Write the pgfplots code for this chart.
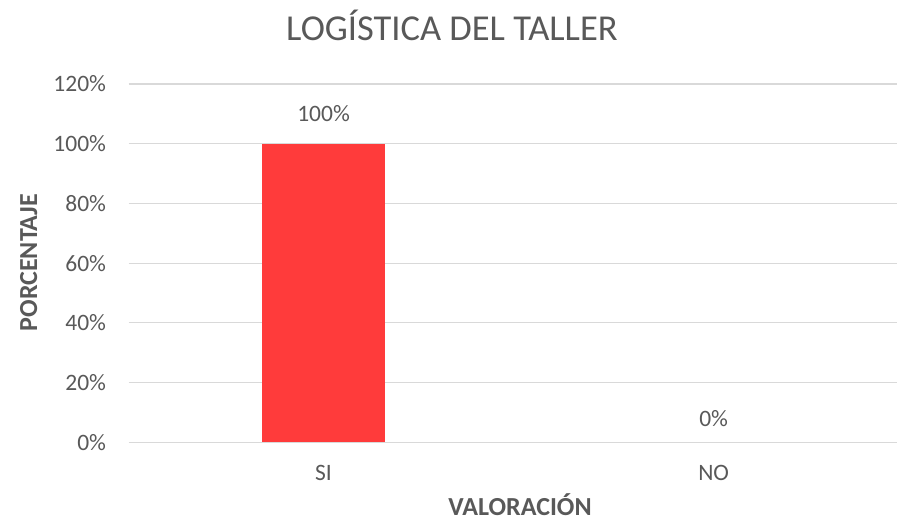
\documentclass[border=0pt]{standalone}
\usepackage{fontspec}
\setmainfont{Carlito}
\usepackage{pgfplots}
\pgfplotsset{compat=1.18}
\definecolor{barred}{HTML}{FF3B3B}
\definecolor{txt}{HTML}{595959}
\definecolor{gridgray}{HTML}{D9D9D9}
\begin{document}
\begin{tikzpicture}
\useasboundingbox (0,0) rectangle (897bp,522bp);
\begin{axis}[
  at={(128.5bp,79.7bp)}, anchor=south west,
  scale only axis, width=768.5bp, height=358.3bp,
  xmin=-0.5, xmax=1.47, ymin=0, ymax=120,
  ybar, bar width=123bp, bar shift=0pt,
  xtick={0,1}, xticklabels={SI,NO},
  ytick={0,20,40,60,80,100,120},
  yticklabel={\pgfmathprintnumber{\tick}\%},
  /pgf/number format/assume math mode=true,
  axis lines*=left,
  axis line style={draw=none},
  tick style={draw=none},
  ymajorgrids, xmajorgrids=false, grid style={draw=gridgray, line width=1.2bp},
  font=\fontsize{23.5bp}{28bp}\selectfont,
  tick label style={text=txt},
  xticklabel style={yshift=-15.5bp},
  yticklabel style={xshift=-19bp},
  nodes near coords={\pgfmathprintnumber{\pgfplotspointmeta}\%},
  nodes near coords style={text=txt},
  xlabel={\bfseries VALORACIÓN},
  ylabel={\bfseries PORCENTAJE},
  xlabel style={at={(axis description cs:0.5094,-0.2045)}, anchor=base, text=txt, inner sep=0pt, text depth=0pt, font=\fontsize{26bp}{31bp}\selectfont},
  ylabel style={at={(axis description cs:-0.119,0.5017)}, anchor=base, text=txt, font=\fontsize{26bp}{31bp}\selectfont},
  clip=false,
]
\addplot[fill=barred, draw=none, nodes near coords style={yshift=18.5bp}] coordinates {(0,100)};
\addplot[fill=none, draw=none, nodes near coords style={yshift=12.5bp}] coordinates {(1,0)};
\end{axis}
\node[text=txt, font=\fontsize{36.5bp}{44bp}\selectfont, anchor=base] at (452bp,481bp) {LOGÍSTICA DEL TALLER};
\end{tikzpicture}
\end{document}
